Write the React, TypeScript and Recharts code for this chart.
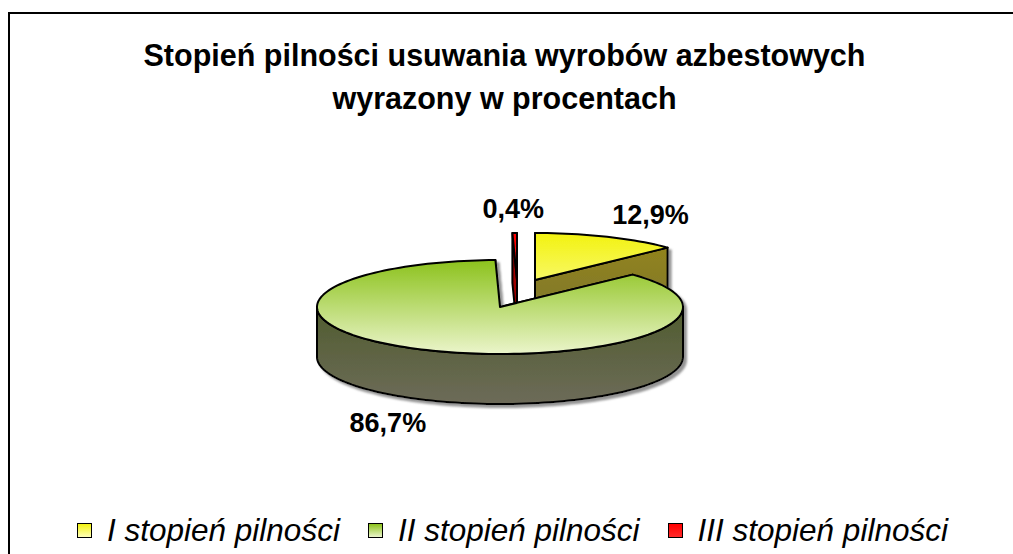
import React from "react";
import { PieChart, Pie, Legend } from "recharts";

const categories = ["I stopień pilności", "II stopień pilności", "III stopień pilności"];
const shares = [12.9, 86.7, 0.4];
// slices that sit behind the big one are painted first
const drawOrder = [0, 2, 1];

const pieData = drawOrder.map((i) => ({ name: categories[i], value: shares[i] }));
const total = shares.reduce((s, v) => s + v, 0);
// first slice begins at 12 o'clock and runs clockwise -> start where it ends, go ccw
const pieStart = 90 - (360 * shares[0]) / total;

const FONT = "'Liberation Sans', Arial, Helvetica, sans-serif";
const TILT = 47 / 183;
const DEPTH = 50;

const SLICE_STYLE: Record<string, { top: [string, string]; side: [string, string]; shift: [number, number] }> = {
  "I stopień pilności": { top: ["#f2f210", "#ffffb8"], side: ["#958619", "#6f6b3e"], shift: [35, -27] },
  "II stopień pilności": { top: ["#8cc21c", "#ebf5cb"], side: ["#42561a", "#6d6b59"], shift: [0, 0] },
  "III stopień pilności": { top: ["#ff0000", "#ff2a2a"], side: ["#b00000", "#800000"], shift: [17, -27] },
};

const fmt = (v: number) => v.toFixed(1).replace(".", ",") + "%";

const onRim = (cx: number, cy: number, r: number, a: number, dy = 0): [number, number] => {
  const t = (a * Math.PI) / 180;
  return [cx + r * Math.cos(t), cy - r * TILT * Math.sin(t) + dy];
};

const rim = (cx: number, cy: number, r: number, a0: number, a1: number, dy = 0) => {
  const n = Math.max(2, Math.ceil(Math.abs(a1 - a0) / 2));
  const out: [number, number][] = [];
  for (let i = 0; i <= n; i++) out.push(onRim(cx, cy, r, a0 + ((a1 - a0) * i) / n, dy));
  return out;
};

const pts = (list: [number, number][]) => list.map(([x, y]) => `${x.toFixed(2)},${y.toFixed(2)}`).join(" L ");

const nameOf = (p: any) => p.name ?? p.payload?.name;

function Slice3D(props: any) {
  const { cx, cy, outerRadius: r, startAngle: a0, endAngle: a1 } = props;
  const key = nameOf(props);
  const st = SLICE_STYLE[key];
  if (!st) return null;
  const x = cx + st.shift[0];
  const y = cy + st.shift[1];
  const id = `slice${categories.indexOf(key)}`;
  const lo = Math.min(a0, a1);
  const hi = Math.max(a0, a1);

  // front part of the outer wall (lower half of the ellipse)
  const walls: string[] = [];
  for (let n = -2; n <= 2; n++) {
    const s = Math.max(lo, 180 + 360 * n);
    const e = Math.min(hi, 360 + 360 * n);
    if (e > s) walls.push(`M ${pts([...rim(x, y, r, s, e), ...rim(x, y, r, e, s, DEPTH)])} Z`);
  }
  const cuts = [a0, a1].map((a) => {
    const p = onRim(x, y, r, a);
    return `M ${pts([[x, y], p, [p[0], p[1] + DEPTH], [x, y + DEPTH]])} Z`;
  });
  const top = `M ${pts([[x, y], ...rim(x, y, r, a0, a1)])} Z`;
  const line = { stroke: "#000", strokeWidth: 2, strokeLinejoin: "round" as const };

  return (
    <g filter={`url(#${id}-shadow)`}>
      <defs>
        <linearGradient id={`${id}-top`} gradientUnits="userSpaceOnUse" x1={0} x2={0} y1={y - r * TILT} y2={y + r * TILT}>
          <stop offset="0" stopColor={st.top[0]} />
          <stop offset="1" stopColor={st.top[1]} />
        </linearGradient>
        <linearGradient id={`${id}-side`} gradientUnits="userSpaceOnUse" x1={0} x2={0} y1={y - r * TILT} y2={y + r * TILT + DEPTH}>
          <stop offset="0" stopColor={st.side[0]} />
          <stop offset="1" stopColor={st.side[1]} />
        </linearGradient>
        <filter id={`${id}-shadow`} x="-10%" y="-10%" width="120%" height="130%">
          <feDropShadow dx={3} dy={3} stdDeviation={1} floodColor="#7a7a7a" floodOpacity={0.8} />
        </filter>
      </defs>
      {cuts.map((d, i) => (
        <path key={`c${i}`} d={d} fill={`url(#${id}-side)`} {...line} />
      ))}
      {walls.map((d, i) => (
        <path key={`w${i}`} d={d} fill={`url(#${id}-side)`} {...line} />
      ))}
      <path d={top} fill={`url(#${id}-top)`} {...line} />
    </g>
  );
}

const renderLabel = (props: any) => {
  const { cx, cy, midAngle, outerRadius: r, value } = props;
  const st = SLICE_STYLE[nameOf(props)];
  if (!st) return null;
  const t = (midAngle * Math.PI) / 180;
  const [px, py] = onRim(cx + st.shift[0], cy + st.shift[1], r, midAngle, Math.sin(t) < 0 ? DEPTH : 0);
  return (
    <text
      x={px + 110 * Math.cos(t)}
      y={py - 24 * Math.sin(t)}
      textAnchor="middle"
      dominantBaseline="central"
      fontFamily={FONT}
      fontWeight="bold"
      fontSize={27}
      fill="#000"
    >
      {fmt(value)}
    </text>
  );
};

const renderLegend = ({ payload }: any) => {
  const items = [...(payload ?? [])].sort((a: any, b: any) => categories.indexOf(a.value) - categories.indexOf(b.value));
  return (
    <div
      style={{
        display: "flex",
        alignItems: "center",
        fontFamily: FONT,
        fontStyle: "italic",
        fontSize: 31.5,
        lineHeight: 1,
        whiteSpace: "nowrap",
        color: "#000",
      }}
    >
      {items.map((it: any, i: number) => {
        const st = SLICE_STYLE[it.value];
        return (
          <div key={it.value} style={{ display: "flex", alignItems: "center", marginLeft: i ? 28 : 0 }}>
            <span
              style={{
                display: "inline-block",
                width: 15,
                height: 15,
                boxSizing: "border-box",
                border: "1.5px solid #000",
                background: `linear-gradient(${st.top[0]}, ${st.top[1]})`,
                marginRight: 15,
              }}
            />
            <span>{it.value}</span>
          </div>
        );
      })}
    </div>
  );
};

export default function App() {
  return (
    <div style={{ position: "fixed", left: 8, top: 8, width: 1005, height: 546, overflow: "hidden", background: "#fff" }}>
      {/* chart frame: only the top and left edges fall inside the picture */}
      <svg width={1005} height={546} style={{ position: "absolute", left: 0, top: 0 }}>
        <path d="M 1 546 L 1 5 L 1005 5" fill="none" stroke="#000" strokeWidth={2} />
      </svg>
      <div
        style={{
          position: "absolute",
          left: 0,
          top: 26,
          width: 993,
          textAlign: "center",
          fontFamily: FONT,
          fontWeight: "bold",
          fontSize: 30.5,
          lineHeight: "43px",
          color: "#000",
        }}
      >
        Stopień pilności usuwania wyrobów azbestowych
        <br />
        wyrazony w procentach
      </div>
      <div style={{ position: "absolute", left: 0, top: 0 }}>
        <PieChart width={1005} height={546} margin={{ top: 0, right: 0, bottom: 0, left: 0 }}>
          <Pie
            data={pieData}
            dataKey="value"
            nameKey="name"
            cx={492}
            cy={299}
            outerRadius={183}
            startAngle={pieStart}
            endAngle={pieStart + 360}
            isAnimationActive={false}
            shape={Slice3D}
            activeShape={Slice3D}
            inactiveShape={Slice3D}
            label={renderLabel}
            labelLine={false}
          />
          <Legend
            content={renderLegend}
            wrapperStyle={{ top: 507, left: 69, bottom: "auto", right: "auto", width: "auto", height: "auto" }}
          />
        </PieChart>
      </div>
    </div>
  );
}
